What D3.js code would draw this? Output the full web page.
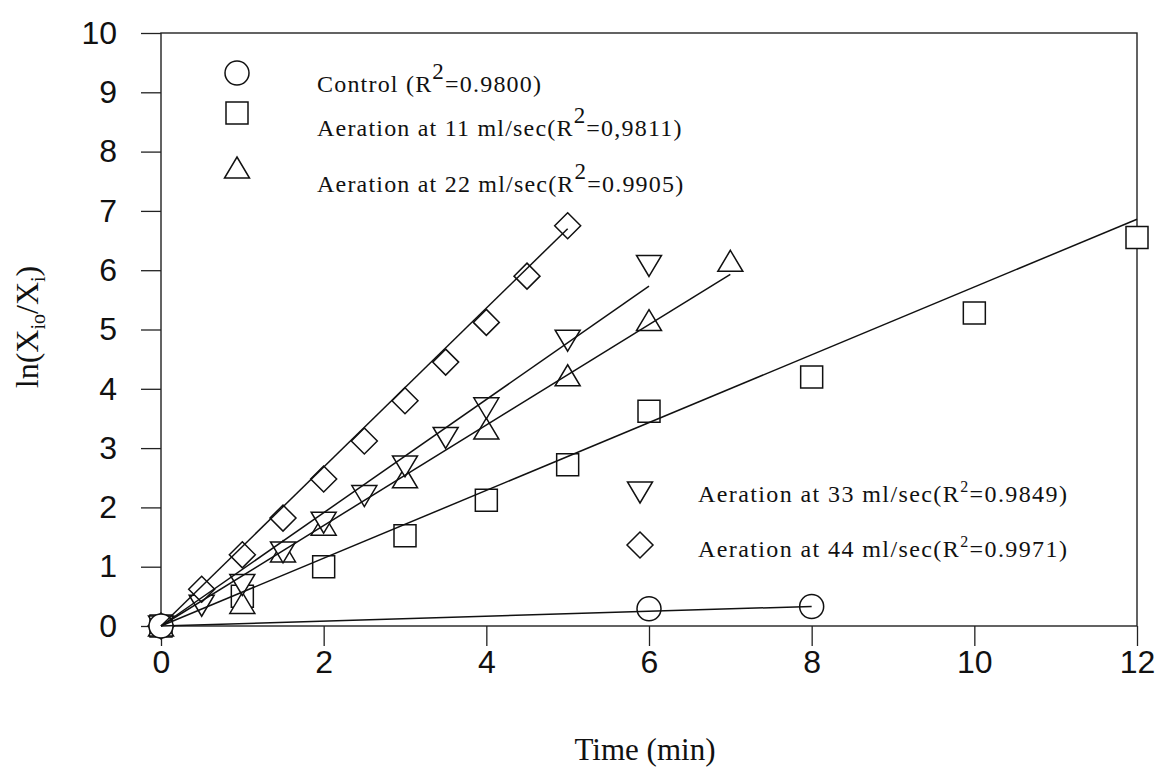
<!DOCTYPE html>
<html>
<head>
<meta charset="utf-8">
<script src="https://cdn.jsdelivr.net/npm/d3@7"></script>
<style>
  html, body { margin: 0; padding: 0; background: #fff; }
  svg { display: block; }
</style>
</head>
<body>
<svg id="chart" width="1160" height="769"></svg>
<script>
// Tick values
const xTicks = [0, 2, 4, 6, 8, 10, 12];
const yTicks = [0, 1, 2, 3, 4, 5, 6, 7, 8, 9, 10];

// Measured points per aeration condition: [time (min), ln(Xio/Xi)]
const control = [[0, 0], [6, 0.29], [8, 0.33]];
const aer11 = [[0, 0], [1, 0.5], [2, 1.0], [3, 1.52], [4, 2.12], [5, 2.72], [6, 3.62], [8, 4.2], [10, 5.28], [12, 6.55]];
const aer22 = [[0, 0], [1, 0.38], [1.5, 1.25], [2, 1.7], [3, 2.5], [4, 3.32], [5, 4.22], [6, 5.15], [7, 6.15]];
const aer33 = [[0, 0], [0.5, 0.35], [1, 0.7], [1.5, 1.25], [2, 1.75], [2.5, 2.2], [3, 2.7], [3.5, 3.18], [4, 3.68], [5, 4.82], [6, 6.08]];
const aer44 = [[0, 0], [0.5, 0.62], [1, 1.2], [1.5, 1.82], [2, 2.48], [2.5, 3.12], [3, 3.8], [3.5, 4.45], [4, 5.12], [4.5, 5.9], [5, 6.75]];

// Regression lines: [[x0, y0], [x1, y1]]
const fitControl = [[0, 0], [8, 0.33]];
const fit11 = [[0, 0], [12, 6.86]];
const fit22 = [[0, 0], [7, 5.93]];
const fit33 = [[0, 0], [6, 5.73]];
const fit44 = [[0, 0], [5, 6.7]];

// Legend entries
const legendTop = [
  { shape: "circle", pre: "Control (R", post: "=0.9800)" },
  { shape: "square", pre: "Aeration at 11 ml/sec(R", post: "=0,9811)" },
  { shape: "up", pre: "Aeration at 22 ml/sec(R", post: "=0.9905)" }
];
const legendBottom = [
  { shape: "down", pre: "Aeration at 33 ml/sec(R", post: "=0.9849)" },
  { shape: "diamond", pre: "Aeration at 44 ml/sec(R", post: "=0.9971)" }
];

const svg = d3.select("#chart");
const plotLeft = 161, plotRight = 1137, plotTop = 33, plotBottom = 626;

const x = d3.scaleLinear().domain([0, 12]).range([plotLeft, plotRight]);
const y = d3.scaleLinear().domain([0, 10]).range([plotBottom, plotTop]);

const sansFont = "'Liberation Sans', Arial, sans-serif";
const serifFont = "'Liberation Serif', 'Times New Roman', serif";

// Marker outline generators
function shapePath(shape) {
  const p = d3.path();
  if (shape === "circle") {
    p.arc(0, 0, 12, 0, 2 * Math.PI);
  } else if (shape === "square") {
    p.rect(-11, -11, 22, 22);
  } else if (shape === "up") {
    p.moveTo(0, -11); p.lineTo(12.5, 10); p.lineTo(-12.5, 10); p.closePath();
  } else if (shape === "down") {
    p.moveTo(0, 11); p.lineTo(12.5, -10); p.lineTo(-12.5, -10); p.closePath();
  } else if (shape === "diamond") {
    p.moveTo(0, -13); p.lineTo(13, 0); p.lineTo(0, 13); p.lineTo(-13, 0); p.closePath();
  }
  return p.toString();
}

// Axes with outward ticks
const yAxis = d3.axisLeft(y).tickValues(yTicks).tickSize(20).tickPadding(24).tickFormat(d3.format("d"));
const xAxis = d3.axisBottom(x).tickValues(xTicks).tickSize(20).tickPadding(4).tickFormat(d3.format("d"));

const gy = svg.append("g").attr("transform", `translate(${plotLeft},0)`).call(yAxis);
const gx = svg.append("g").attr("transform", `translate(0,${plotBottom})`).call(xAxis);
[gx, gy].forEach(g => {
  g.select(".domain").remove();
  g.selectAll(".tick line").attr("stroke", "#222").attr("stroke-width", 1.3);
  g.selectAll(".tick text")
    .attr("fill", "#111")
    .style("font-family", sansFont)
    .style("font-size", "32px");
});

// Plot frame
svg.append("rect")
  .attr("x", plotLeft).attr("y", plotTop)
  .attr("width", plotRight - plotLeft).attr("height", plotBottom - plotTop)
  .attr("fill", "none").attr("stroke", "#222").attr("stroke-width", 1.4);

// Data markers
const seriesList = [
  { data: aer11, shape: "square" },
  { data: aer22, shape: "up" },
  { data: aer33, shape: "down" },
  { data: aer44, shape: "diamond" },
  { data: control, shape: "circle" }
];
seriesList.forEach(s => {
  svg.append("g").selectAll("path")
    .data(s.data)
    .join("path")
    .attr("transform", d => `translate(${x(d[0])},${y(d[1])})`)
    .attr("d", shapePath(s.shape))
    .attr("fill", "#fff")
    .attr("stroke", "#111")
    .attr("stroke-width", 1.5);
});

// Regression lines
const line = d3.line().x(d => x(d[0])).y(d => y(d[1]));
[fitControl, fit11, fit22, fit33, fit44].forEach(f => {
  svg.append("path")
    .attr("d", line(f))
    .attr("fill", "none")
    .attr("stroke", "#111")
    .attr("stroke-width", 1.5);
});

// Legends
function drawLegend(items, symX, textX, rows, sup, spacing) {
  items.forEach((it, i) => {
    svg.append("path")
      .attr("transform", `translate(${symX},${rows[i].sy})`)
      .attr("d", shapePath(it.shape))
      .attr("fill", "#fff")
      .attr("stroke", "#111")
      .attr("stroke-width", 1.5);
    const t = svg.append("text")
      .attr("x", textX).attr("y", rows[i].ty)
      .attr("fill", "#111")
      .style("font-family", serifFont)
      .style("font-size", "24px")
      .style("letter-spacing", spacing + "px");
    t.append("tspan").text(it.pre);
    t.append("tspan").attr("dy", sup.dy).style("font-size", sup.fs).text("2");
    t.append("tspan").attr("dy", -sup.dy).text(it.post);
  });
}
drawLegend(legendTop, 237, 317,
  [{ sy: 73, ty: 92 }, { sy: 113, ty: 136 }, { sy: 168, ty: 192 }],
  { dy: -13, fs: "23px" }, 1.2);
drawLegend(legendBottom, 640, 698,
  [{ sy: 492, ty: 502 }, { sy: 545, ty: 557 }],
  { dy: -10, fs: "16px" }, 1.4);

// Axis titles
svg.append("text")
  .attr("x", 645).attr("y", 760)
  .attr("text-anchor", "middle")
  .attr("fill", "#111")
  .style("font-family", serifFont)
  .style("font-size", "31px")
  .text("Time (min)");

const yl = svg.append("text")
  .attr("transform", "translate(38,327) rotate(-90)")
  .attr("text-anchor", "middle")
  .attr("fill", "#111")
  .style("font-family", serifFont)
  .style("font-size", "32px");
yl.append("tspan").text("ln(X");
yl.append("tspan").attr("dy", 7).style("font-size", "20px").text("io");
yl.append("tspan").attr("dy", -7).text("/X");
yl.append("tspan").attr("dy", 7).style("font-size", "20px").text("i");
yl.append("tspan").attr("dy", -7).text(")");
</script>
</body>
</html>
